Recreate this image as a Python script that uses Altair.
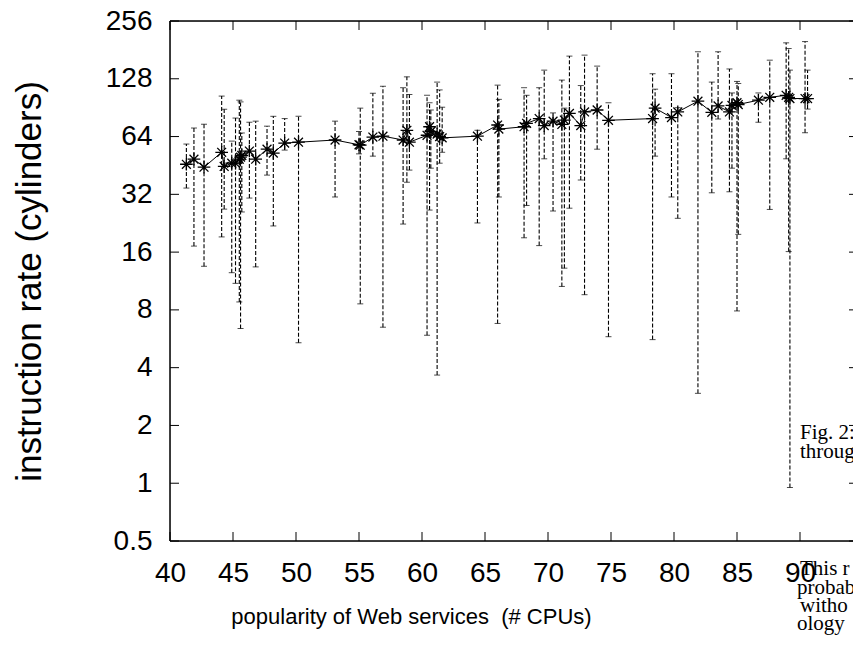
import altair as alt
import pandas as pd

# ---- data ----
cpus = [41.3, 41.9, 42.7, 44.1, 44.3, 44.9, 45.2, 45.5, 45.6, 45.7,
        46.3, 46.8, 47.7, 48.2, 49.1, 50.2, 53.1, 55.0, 55.1, 56.1,
        56.9, 58.5, 58.8, 59.0, 60.4, 60.6, 60.7, 61.2, 61.4, 61.6,
        64.4, 66.0, 66.1, 68.1, 68.3, 69.3, 69.7, 70.4, 71.1, 71.3,
        71.7, 72.6, 72.9, 73.9, 74.8, 78.3, 78.5, 79.8, 80.3, 81.9,
        83.0, 83.5, 84.4, 84.6, 85.0, 85.1, 86.7, 87.6, 88.9, 89.1,
        89.2, 90.4, 90.6]
rate = [45.9, 48.8, 44.3, 53.0, 44.7, 46.5, 46.5, 48.8, 50.0, 51.0,
        53.8, 48.8, 55.0, 52.5, 59.2, 59.8, 61.4, 58.0, 57.7, 63.6,
        64.3, 61.4, 69.0, 59.8, 65.0, 72.0, 68.0, 66.0, 64.0, 63.0,
        64.3, 73.5, 70.0, 72.0, 75.0, 79.4, 73.0, 77.0, 74.0, 78.0,
        84.5, 73.0, 86.0, 88.0, 77.8, 79.4, 90.0, 80.4, 86.0, 97.8,
        85.6, 92.4, 86.0, 93.0, 96.0, 94.0, 99.0, 102.5, 105.0, 102.5,
        101.0, 101.0, 101.0]
rate_lo = [34.5, 17.2, 13.5, 19.2, 26.8, 12.5, 11.0, 8.8, 6.4, 25.9,
           30.6, 13.4, 40.3, 21.9, 54.4, 5.4, 31.0, 52.0, 8.6, 50.6,
           6.5, 22.4, 37.0, 42.8, 5.9, 26.5, 43.8, 3.66, 46.5, 53.0,
           22.7, 6.8, 31.0, 19.0, 28.0, 17.3, 49.0, 26.2, 10.6, 13.2,
           27.1, 38.0, 9.6, 55.0, 5.8, 5.6, 50.6, 31.0, 24.0, 2.94,
           32.6, 79.0, 33.0, 43.8, 7.9, 19.8, 76.0, 26.7, 49.0, 16.1,
           0.95, 67.0, 89.0]
rate_hi = [58.5, 70.9, 74.2, 104.0, 88.8, 60.6, 79.9, 99.0, 97.0, 66.8,
           76.0, 77.0, 72.5, 81.6, 79.4, 81.6, 77.0, 68.0, 90.0, 107.6,
           117.0, 115.0, 131.0, 106.0, 105.0, 96.0, 88.0, 123.0, 112.0, 91.0,
           69.0, 118.6, 100.0, 115.0, 105.0, 115.0, 142.0, 85.0, 126.0, 90.0,
           168.0, 118.0, 170.0, 149.0, 96.0, 136.0, 113.0, 136.0, 90.5, 177.0,
           123.0, 177.0, 144.0, 108.0, 124.0, 121.0, 108.0, 160.0, 197.0, 184.0,
           142.0, 200.0, 142.0]

y_ticks = [0.5, 1, 2, 4, 8, 16, 32, 64, 128, 256]
x_ticks = [40, 45, 50, 55, 60, 65, 70, 75, 80, 85, 90]

notes = ["Fig. 2:", "throug", "This r", "probab", "witho", "ology"]

W, H = 683, 520
PX_PER_CPU = 12.6
FONT = "Liberation Sans"

df = pd.DataFrame({"cpus": cpus, "rate": rate, "lo": rate_lo, "hi": rate_hi})
ydf = pd.DataFrame({"v": y_ticks})
xdf = pd.DataFrame({"v": x_ticks})
one = pd.DataFrame({"a": [0]})

xs = alt.Scale(domain=[40, 40 + W / PX_PER_CPU], nice=False, zero=False)
ys = alt.Scale(type="log", base=2, domain=[0.5, 256], nice=False)

x_axis = alt.Axis(values=x_ticks, format="d", labelFontSize=28, labelFont=FONT,
                  labelColor="black", ticks=False, domain=False, grid=False,
                  labelPadding=18, labelFlush=False, labelOverlap=False,
                  title="popularity of Web services \u00a0(# CPUs)", titleFont=FONT,
                  titleFontSize=22, titleFontWeight="normal", titleColor="black",
                  titleX=241, titleY=75, titleBaseline="middle")
y_axis = alt.Axis(values=y_ticks, format="~g", labelFontSize=28, labelFont=FONT,
                  labelColor="black", ticks=False, domain=False, grid=False,
                  labelPadding=18, labelFlush=False, labelOverlap=False,
                  title="instruction rate (cylinders)", titleFont=FONT,
                  titleFontSize=35, titleFontWeight="normal", titleColor="black",
                  titleX=-141, titleY=H / 2, titleBaseline="middle")

base = alt.Chart(df)

bars = base.mark_rule(color="black", strokeWidth=1.1, strokeDash=[4, 2]).encode(
    x=alt.X("cpus:Q", scale=xs, axis=x_axis),
    y=alt.Y("lo:Q", scale=ys, axis=y_axis),
    y2="hi:Q",
)
cap_lo = base.mark_tick(color="black", orient="horizontal", size=6, thickness=1).encode(
    x=alt.X("cpus:Q", scale=xs), y=alt.Y("lo:Q", scale=ys))
cap_hi = base.mark_tick(color="black", orient="horizontal", size=6, thickness=1).encode(
    x=alt.X("cpus:Q", scale=xs), y=alt.Y("hi:Q", scale=ys))
line = base.mark_line(color="black", strokeWidth=1).encode(
    x=alt.X("cpus:Q", scale=xs), y=alt.Y("rate:Q", scale=ys), order="cpus:Q")
star = "M-1,0L1,0M0,-1L0,1M-0.7,-0.7L0.7,0.7M-0.7,0.7L0.7,-0.7"
pts = base.mark_point(shape=star, filled=False, color="black", size=160,
                      strokeWidth=1.3, opacity=1).encode(
    x=alt.X("cpus:Q", scale=xs), y=alt.Y("rate:Q", scale=ys))

ytk = alt.Chart(ydf)
xtk = alt.Chart(xdf)
tk_left = ytk.mark_rule(color="black", strokeWidth=1).encode(
    y=alt.Y("v:Q", scale=ys), x=alt.value(0), x2=alt.value(9))
tk_right = ytk.mark_rule(color="black", strokeWidth=1).encode(
    y=alt.Y("v:Q", scale=ys), x=alt.value(W - 4), x2=alt.value(W))
tk_bot = xtk.mark_rule(color="black", strokeWidth=1).encode(
    x=alt.X("v:Q", scale=xs), y=alt.value(H), y2=alt.value(H - 9))
tk_top = xtk.mark_rule(color="black", strokeWidth=1).encode(
    x=alt.X("v:Q", scale=xs), y=alt.value(0), y2=alt.value(9))

o = alt.Chart(one)
b_left = o.mark_rule(color="black", strokeWidth=1.5).encode(
    x=alt.value(0), y=alt.value(0), y2=alt.value(H))
b_top = o.mark_rule(color="black", strokeWidth=1.5).encode(
    y=alt.value(0), x=alt.value(0), x2=alt.value(W))
b_bot = o.mark_rule(color="black", strokeWidth=1.5).encode(
    y=alt.value(H), x=alt.value(0), x2=alt.value(W))

note_pos = [(630, 412), (630, 431), (630, 548), (627, 567), (630, 585), (627, 603)]
note_layers = []
for t, (px, py) in zip(notes, note_pos):
    note_layers.append(
        o.mark_text(text=t, font="Liberation Serif", fontSize=21, color="black",
                    align="left", baseline="middle").encode(
            x=alt.value(px), y=alt.value(py)))

chart = alt.layer(
    bars, cap_lo, cap_hi, line, pts,
    tk_left, tk_right, tk_bot, tk_top,
    b_left, b_top, b_bot, *note_layers,
).properties(
    width=W, height=H,
    autosize=alt.AutoSizeParams(type="none"),
    padding={"left": 162, "top": 13, "right": 0, "bottom": 95},
).configure_view(stroke=None).configure(background="white")

chart.save("out.html", embed_options={"renderer": "svg", "actions": False})
